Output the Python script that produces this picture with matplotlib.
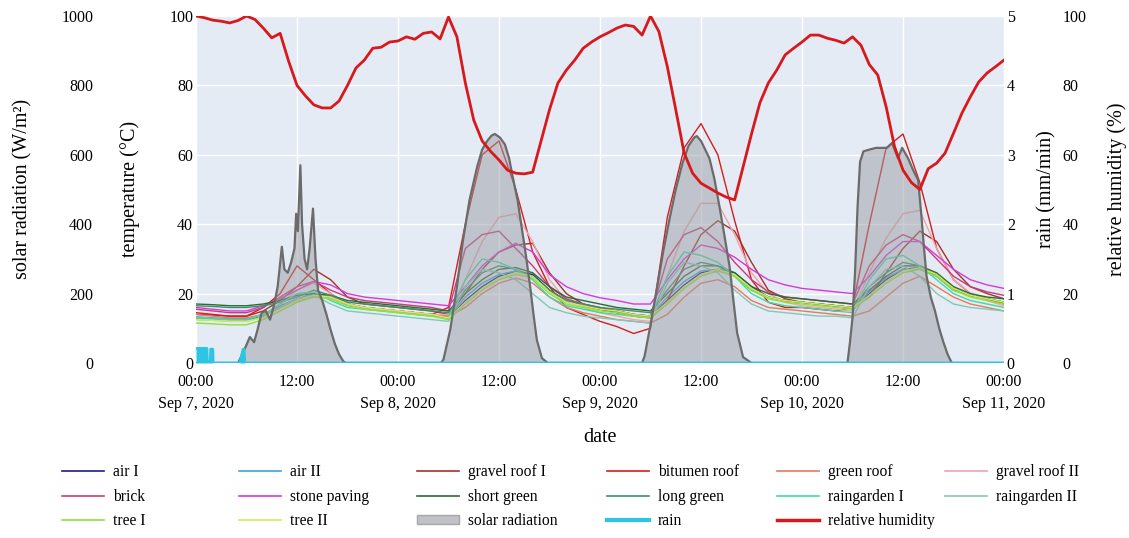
import numpy as np
import matplotlib.pyplot as plt
from matplotlib.lines import Line2D
from matplotlib.patches import Patch

plt.rcParams['font.family'] = ['Liberation Serif', 'DejaVu Serif']
plt.rcParams['font.size'] = 11.5

## time axis (hours after Sep 7, 2020 00:00)
start = np.datetime64('2020-09-07T00:00')
temp_hours = np.arange(0, 97, 2)
rh_hours = np.arange(0, 97, 1)

## surface / air temperatures (degC), every 2 h
air_1 = [13, 12.8, 12.5, 12.5, 13.5, 16, 18, 19.5, 19, 17, 16, 15.5,
         15, 14.5, 14, 13, 18, 22, 25, 26.5, 25.5, 21, 18, 16.5,
         15.5, 15, 14, 13.5, 18, 22.5, 26, 27, 26, 22, 19, 18,
         17.5, 17, 16.5, 16, 20, 24, 27, 27.5, 25.5, 21.5, 19.5, 18.5, 17.5]
air_2 = [13.3, 13, 12.8, 12.8, 14, 16.5, 18.5, 20, 19, 17, 16, 15.5,
         15, 14.5, 14, 13.5, 19, 23, 25.5, 26.5, 25, 20.5, 17.5, 16.5,
         15.5, 15, 14, 13.5, 19, 23.5, 26.5, 27, 25.5, 21.5, 19, 18,
         17.5, 17, 16.5, 16, 20.5, 24.5, 27, 27, 25, 21, 19.5, 18.5, 17.5]
gravel_roof_1 = [14, 13.8, 13.5, 13.5, 15, 18, 22, 27, 24, 19, 17, 16.5,
                 16, 15.5, 15, 14, 20, 27, 32, 34, 34.5, 26, 20, 17,
                 15.5, 14.5, 13.5, 13, 18, 28, 37, 41, 38, 29, 21, 18.5,
                 17.5, 17, 16.5, 16, 19, 26, 33, 38, 35, 27, 22, 20, 18.5]
bitumen_roof = [14.5, 14, 13.5, 13.5, 16, 20, 28, 24, 20, 17, 16, 15.5,
                15, 14.5, 14, 16, 40, 60, 64, 50, 32, 22, 16, 14,
                12, 10.5, 8.5, 10, 42, 62, 69, 60, 41, 24, 17.5, 16,
                16, 15.5, 15, 16, 40, 62, 66, 52, 33, 24, 20, 18.5, 17]
green_roof = [14, 13.5, 13, 13, 14, 16, 18, 19.5, 19, 17, 16, 15.5,
              15, 14.5, 14, 13.5, 16, 20, 23, 24.5, 23, 19, 16, 14.5,
              13.5, 12.5, 12, 11.5, 14, 19, 23, 24, 22, 18, 16, 15.5,
              15, 14.5, 14, 13.5, 15, 19, 23, 25, 22, 19, 17, 16, 15]
gravel_roof_2 = [13, 12.8, 12.5, 12.5, 14, 17, 21, 23, 20, 17, 16, 15.5,
                 15, 14.5, 14, 14, 24, 35, 42, 43, 35, 24, 18, 16,
                 14.5, 13.5, 12.5, 12, 25, 38, 46, 46, 37, 26, 20, 17.5,
                 16.5, 16, 15.5, 15, 26, 36, 43, 44, 33, 24, 20, 18, 16.5]
brick = [15.5, 15, 14.5, 14.5, 16, 19, 22, 23.5, 21, 19, 18, 17.5,
         17, 16.5, 16, 15, 33, 37, 38, 33, 28, 22, 18.5, 17,
         16, 15, 14, 13.5, 30, 37, 39, 35, 29, 24, 20.5, 19,
         18.5, 18, 17.5, 17, 28, 34, 37, 35, 30, 25, 22, 20.5, 19.5]
stone_paving = [16, 15.5, 15, 15, 16.5, 18.5, 21, 23.5, 22.5, 20, 19, 18.5,
                18, 17.5, 17, 16.5, 22, 28, 32, 34.5, 32, 25.5, 22, 20,
                18.8, 18, 17, 17, 24, 30, 34, 33, 30.5, 27, 24, 22.5,
                21.5, 21, 20.5, 20, 25, 31, 35, 35, 31, 27, 24, 22.5, 21.5]
short_green = [17, 16.8, 16.5, 16.5, 17, 18, 19.5, 20, 19.5, 18, 17.5, 17,
               16.5, 16, 15.5, 15, 20, 24, 27, 27.5, 26, 22, 19, 18,
               17, 16, 15.5, 15, 20, 25, 28, 28, 26, 22, 20, 19,
               18.5, 18, 17.5, 17, 21, 25, 28, 28, 26, 22, 20, 19, 18.5]
long_green = [16.5, 16.3, 16, 16, 16.5, 17.5, 19, 21, 19.5, 17.5, 17, 16.5,
              16, 15.5, 15, 14.5, 21, 26, 28, 27, 25, 21, 18, 17,
              16, 15.5, 15, 14.5, 21, 27, 29, 28, 25, 21, 19, 18,
              17.5, 17, 16.5, 16, 22, 26, 29, 28, 25, 21, 19.5, 18.5, 17.5]
raingarden_1 = [13, 12.8, 12.5, 12.5, 14, 17, 20, 20.5, 18, 16, 15.5, 15,
                14.5, 14, 13.5, 13, 24, 30, 29, 27, 24, 19, 16.5, 15.5,
                14.5, 14, 13.5, 13, 25, 32, 31, 29, 25, 20, 17.5, 16.5,
                16, 15.5, 15, 14.5, 24, 30, 31, 28, 24, 20, 18, 17, 16]
raingarden_2 = [12.5, 12.3, 12, 12, 13.5, 16, 18.5, 19.5, 17, 15, 14.5, 14,
                13.5, 13, 12.5, 12, 22, 27, 26, 24, 20, 16, 14.5, 13.5,
                13, 12.5, 12, 11.5, 23, 29, 28, 26, 21, 17, 15, 14.5,
                14, 13.5, 13.5, 13, 22, 27, 28, 25, 20, 17, 16, 15.5, 15]
tree_1 = [11.5, 11.3, 11, 11, 12.5, 15, 17.5, 19, 18.5, 16.5, 15.5, 15,
          14.5, 14, 13.5, 12.5, 17, 21, 24, 25.5, 24.5, 20, 17, 16,
          15, 14.5, 13.5, 13, 17, 21.5, 25, 26.5, 25, 21, 18.5, 17.5,
          17, 16.5, 16, 15.5, 19, 23, 26, 27, 25, 21, 19, 18, 17]
tree_2 = [12.5, 12.3, 12, 12, 13, 15.5, 18, 19.5, 19, 17, 16, 15.5,
          15, 14.5, 14, 13, 17.5, 21.5, 24.5, 26, 25, 20.5, 17.5, 16.5,
          15.5, 15, 14, 13.5, 17.5, 22, 25.5, 27, 25.5, 21.5, 19, 18,
          17.5, 17, 16.5, 16, 19.5, 23.5, 26.5, 27.5, 25.5, 21.5, 19.5, 18.5, 17.5]

## solar radiation (W/m2)
solar_hours = [0, 5.0, 5.6, 6.4, 6.9, 7.3, 7.8, 8.3, 8.8, 9.3, 9.7, 10.2, 10.5, 10.9, 11.3,
               11.7, 11.9, 12.1, 12.4, 12.6, 12.9, 13.2, 13.5, 13.9, 14.2, 14.5, 15.0,
               15.5, 16.0, 16.5, 17.0, 17.5, 17.8,
               29.1, 29.4, 30.2, 31.0, 31.7, 32.5, 33.4, 34.0, 34.6, 35.1, 35.5, 36.1,
               36.7, 37.2, 37.6, 38.2, 38.7, 39.2, 39.7, 40.1, 40.5, 41.1, 41.8,
               53.0, 53.3, 54.0, 54.8, 55.5, 56.3, 57.0, 57.8, 58.5, 59.2, 59.5, 60.0,
               60.5, 61.0, 61.6, 62.2, 62.8, 63.4, 63.9, 64.3, 65.0, 66.0,
               77.4, 77.7, 78.0, 78.3, 78.6, 78.9, 79.3, 80.0, 80.8, 82.1, 82.7, 83.4,
               83.9, 84.6, 85.2, 85.8, 86.2, 86.5, 86.8, 87.3, 87.8, 88.3, 88.8, 89.3,
               89.8, 96]
solar_wm2 = [0, 0, 30, 75, 60, 95, 145, 150, 125, 170, 220, 335, 270, 260, 290,
             330, 430, 380, 570, 400, 300, 270, 330, 445, 300, 210, 180,
             140, 95, 55, 25, 5, 0,
             0, 10, 95, 220, 350, 470, 565, 615, 640, 655, 660, 650,
             630, 590, 540, 470, 390, 310, 220, 140, 66, 14, 0,
             0, 20, 110, 220, 320, 420, 500, 576, 625, 650, 654, 640,
             615, 590, 530, 450, 365, 277, 170, 86, 17, 0,
             0, 60, 130, 260, 450, 580, 610, 615, 620, 620, 634, 590,
             620, 590, 556, 527, 420, 330, 250, 190, 150, 100, 60, 25,
             0, 0]

## rain (mm/min)
rain_hours = [0, 1.3, 1.35, 1.7, 1.75, 2.0, 2.05, 5.2, 5.6, 5.7, 5.8, 96]
rain_mm = [0.21, 0.21, 0.02, 0.02, 0.2, 0.2, 0, 0, 0.2, 0.2, 0, 0]

## relative humidity (%), hourly
rel_humidity = [100, 99.5, 98.8, 98.5, 98, 98.7, 100, 99, 96.5, 93.7, 95, 87, 80, 77, 74.4,
                73.5, 73.5, 75.5, 80, 85, 87.3, 90.7, 91, 92.5, 92.8, 94, 93.3, 95, 95.4,
                93.4, 99.7, 94, 80.7, 70, 64, 61, 58.5, 55.6, 54.7, 54.5, 55, 64, 73, 80.7,
                84.4, 87.3, 90.7, 92.5, 94, 95.2, 96.5, 97.4, 97, 94.5, 100, 95.5, 85.4, 73,
                60.5, 54.7, 51.8, 50.4, 49, 47.8, 47, 56.5, 66, 75, 80.7, 84.4, 88.8, 90.7,
                92.5, 94.5, 94.5, 93.6, 93, 92.2, 94, 91.6, 86, 83, 73.8, 62.3, 55.6, 52,
                50, 56, 57.6, 60.5, 66.2, 72, 76.7, 81, 83.6, 85.4, 87.3]

temp_series = [
    ('air I', air_1, '#1c1c8a'),
    ('air II', air_2, '#3aa6d8'),
    ('gravel roof I', gravel_roof_1, '#a3312c'),
    ('bitumen roof', bitumen_roof, '#d41e1e'),
    ('green roof', green_roof, '#e8795e'),
    ('gravel roof II', gravel_roof_2, '#f2a3aa'),
    ('brick', brick, '#c93b7a'),
    ('stone paving', stone_paving, '#d63ad6'),
    ('short green', short_green, '#2f6b2f'),
    ('long green', long_green, '#3a8f6e'),
    ('raingarden I', raingarden_1, '#3ddba2'),
    ('raingarden II', raingarden_2, '#80c9b3'),
    ('tree I', tree_1, '#8ee03a'),
    ('tree II', tree_2, '#d6ea58'),
]

def to_time(hours):
    return start + (np.asarray(hours, dtype=float) * 60).astype('timedelta64[m]')

W, H = 1129, 538
fig = plt.figure(figsize=(W / 100, H / 100), dpi=100)
ax = fig.add_axes([196 / W, 1 - 363 / H, 808 / W, 347 / H])
ax.set_facecolor('#e5ebf5')

## temperature lines
for name, vals, col in temp_series:
    ax.plot(to_time(temp_hours), vals, color=col, lw=1.0)

ax.set_ylim(0, 100)
ax.set_yticks([0, 20, 40, 60, 80, 100])
xt = to_time(np.arange(0, 97, 12))
ax.set_xticks(xt)
ax.set_xticklabels(['00:00\nSep 7, 2020', '12:00', '00:00\nSep 8, 2020', '12:00',
                    '00:00\nSep 9, 2020', '12:00', '00:00\nSep 10, 2020', '12:00',
                    '00:00\nSep 11, 2020'], linespacing=1.5, va='top')
ax.set_xlim(to_time(0), to_time(96))
ax.grid(True, color='white', lw=1)
ax.set_axisbelow(True)
ax.tick_params(length=0, pad=2)
ax.tick_params(axis='x', pad=8)
for s in ax.spines.values():
    s.set_visible(False)

## solar radiation axis (far left)
ax_s = ax.twinx()
ax_s.yaxis.set_ticks_position('left')
ax_s.spines['left'].set_position(('outward', 72))
ax_s.fill_between(to_time(solar_hours), solar_wm2, 0, facecolor='#9b9da2', alpha=0.5, lw=0)
ax_s.plot(to_time(solar_hours), solar_wm2, color='#6b6b6b', lw=1.6)
ax_s.set_ylim(0, 1000)
ax_s.set_yticks([0, 200, 400, 600, 800, 1000])

## rain axis (right)
ax_r = ax.twinx()
ax_r.fill_between(to_time(rain_hours), rain_mm, 0, color='#2ec4e4', lw=0)
ax_r.plot(to_time(rain_hours), rain_mm, color='#2ec4e4', lw=2)
ax_r.set_ylim(0, 5)
ax_r.set_yticks([0, 1, 2, 3, 4, 5])

## relative humidity axis (far right)
ax_h = ax.twinx()
ax_h.spines['right'].set_position(('outward', 40))
ax_h.plot(to_time(rh_hours), rel_humidity, color='#d7191c', lw=2.0)
ax_h.set_ylim(0, 100)
ax_h.set_yticks([0, 20, 40, 60, 80, 100])

for a in (ax_s, ax_r, ax_h):
    a.set_xlim(to_time(0), to_time(96))
    a.tick_params(length=0, pad=2)
    for s in a.spines.values():
        s.set_visible(False)

## axis titles
fs_lab = 14.5
fig.text(23 / W, 1 - 189 / H, 'solar radiation (W/m²)', rotation=90, ha='center', va='center', fontsize=fs_lab)
fig.text(130 / W, 1 - 189 / H, 'temperature (°C)', rotation=90, ha='center', va='center', fontsize=fs_lab)
fig.text(1047 / W, 1 - 189 / H, 'rain (mm/min)', rotation=90, ha='center', va='center', fontsize=fs_lab)
fig.text(1117 / W, 1 - 189 / H, 'relative humidity (%)', rotation=90, ha='center', va='center', fontsize=fs_lab)
fig.text(600 / W, 1 - 438 / H, 'date', ha='center', va='center', fontsize=fs_lab)

## legend, one block per column
handles = {name: Line2D([], [], color=col, lw=1.2) for name, vals, col in temp_series}
handles['solar radiation'] = Patch(facecolor='#c0c2c6', edgecolor='#a8a8a8')
handles['rain'] = Line2D([], [], color='#2ec4e4', lw=3)
handles['relative humidity'] = Line2D([], [], color='#d7191c', lw=2.5)
columns = [['air I', 'brick', 'tree I'],
           ['air II', 'stone paving', 'tree II'],
           ['gravel roof I', 'short green', 'solar radiation'],
           ['bitumen roof', 'long green', 'rain'],
           ['green roof', 'raingarden I', 'relative humidity'],
           ['gravel roof II', 'raingarden II']]
col_x = [62, 239, 417, 607, 777, 945]
for cx, names in zip(col_x, columns):
    leg = fig.legend([handles[n] for n in names], names, loc='upper left',
                     bbox_to_anchor=(cx / W, 1 - 464 / H), frameon=False,
                     fontsize=11.2, handlelength=2.7, handletextpad=0.55,
                     labelspacing=0.55, borderpad=0, borderaxespad=0,
                     handleheight=0.45)

fig.savefig('out.png', dpi=100)
